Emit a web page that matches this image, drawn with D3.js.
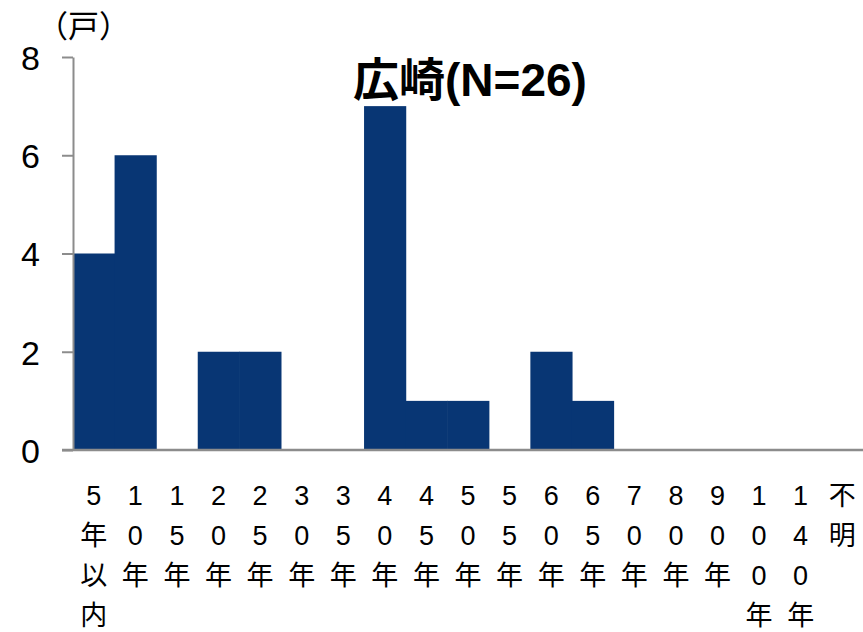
<!DOCTYPE html>
<html>
<head>
<meta charset="utf-8">
<script src="https://cdn.jsdelivr.net/npm/d3@7"></script>
<style>
  body { margin: 0; background: #fff; }
  text { font-family: "Liberation Sans", Arial, "Noto Sans CJK JP", sans-serif; fill: #000; }
</style>
</head>
<body>
<svg id="chart" width="863" height="632"></svg>
<script>
// categories (years since built) and household counts
const categories = ['5年以内', '10年', '15年', '20年', '25年', '30年', '35年', '40年', '45年', '50年',
  '55年', '60年', '65年', '70年', '80年', '90年', '100年', '140年', '不明'];
const counts = [4, 6, 0, 2, 2, 0, 0, 7, 1, 1, 0, 2, 1, 0, 0, 0, 0, 0, 0];
const yTicks = [0, 2, 4, 6, 8];
const title = '広崎(N=26)';
const unit = '（戸）';

const svg = d3.select('#chart');
const margin = { left: 73, right: 0, top: 57, bottom: 182 };
const width = 863, height = 632;

const x = d3.scaleBand()
  .domain(categories)
  .range([margin.left, width - margin.right])
  .padding(0);

const y = d3.scaleLinear()
  .domain([0, 8])
  .range([height - margin.bottom, margin.top]);

// bars (slightly widened so neighbours join without a seam)
svg.append('g')
  .selectAll('rect')
  .data(categories.map((c, i) => ({ c, v: counts[i] })))
  .enter()
    .append('rect')
    .attr('x', d => x(d.c))
    .attr('width', x.bandwidth() + 0.6)
    .attr('y', d => y(d.v))
    .attr('height', d => y(0) - y(d.v))
    .attr('fill', '#083674');

// y axis
const yAxis = svg.append('g')
  .attr('transform', `translate(${margin.left},0)`)
  .call(d3.axisLeft(y).tickValues(yTicks).tickSize(11).tickPadding(22).tickSizeOuter(0));
yAxis.select('.domain').attr('stroke', '#8c8c8c').attr('stroke-width', 2);
yAxis.selectAll('.tick line').attr('stroke', '#8c8c8c').attr('stroke-width', 2);
yAxis.selectAll('.tick text')
  .attr('font-size', 34)
  .attr('dy', '0.36em')
  .style('font-family', '"Liberation Sans", Arial, sans-serif');

// x axis line
svg.append('line')
  .attr('x1', margin.left - 11).attr('x2', width)
  .attr('y1', y(0)).attr('y2', y(0))
  .attr('stroke', '#8c8c8c').attr('stroke-width', 2.5);

// x labels, one character per line
const xl = svg.append('g');
categories.forEach(c => {
  const t = xl.append('text')
    .attr('text-anchor', 'middle')
    .attr('font-size', 27);
  Array.from(c).forEach((ch, i) => {
    t.append('tspan')
      .attr('x', x(c) + x.bandwidth() / 2)
      .attr('y', 505 + i * 40)
      .text(ch);
  });
});

// unit label
svg.append('text')
  .attr('x', 37).attr('y', 37)
  .attr('font-size', 31)
  .text(unit);

// title
svg.append('text')
  .attr('x', 470).attr('y', 96)
  .attr('text-anchor', 'middle')
  .attr('font-size', 46)
  .attr('font-weight', 'bold')
  .text(title);
</script>
</body>
</html>
